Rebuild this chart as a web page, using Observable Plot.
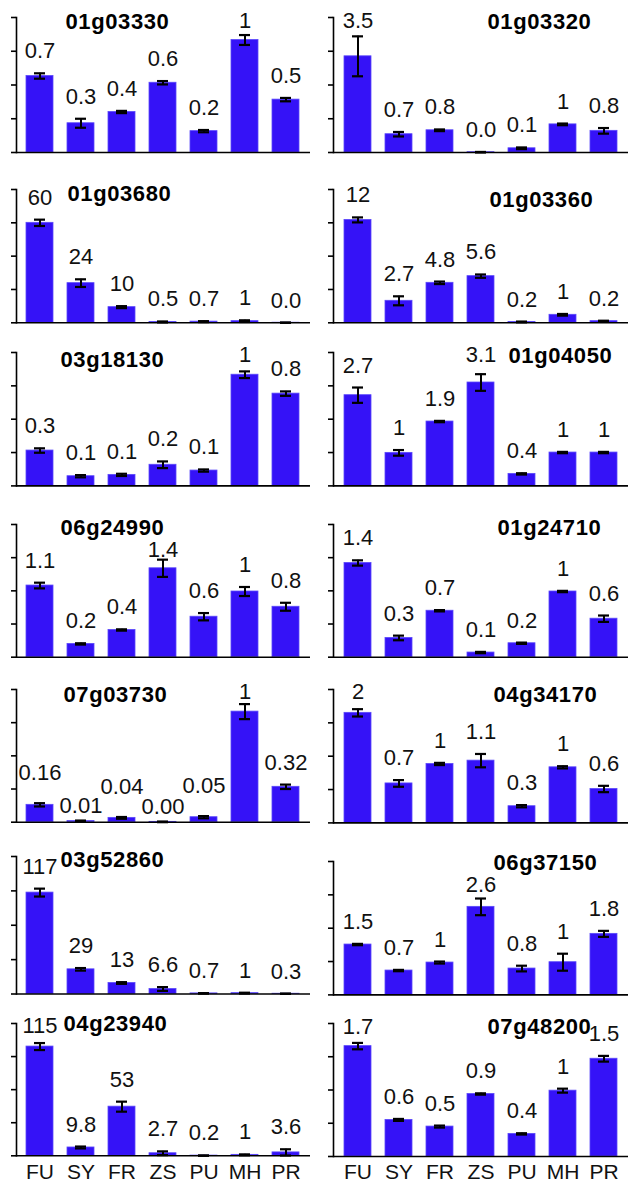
<!DOCTYPE html>
<html><head><meta charset="utf-8">
<script src="https://cdn.jsdelivr.net/npm/d3@7"></script>
<script src="https://cdn.jsdelivr.net/npm/@observablehq/plot@0.6"></script>
<style>
body{margin:0;background:#fff;}
#fig{position:relative;width:630px;height:1186px;overflow:hidden;}
#fig svg{position:absolute;}
#fig g[font-weight="bold"]{letter-spacing:0.6px;}
</style></head><body><div id="fig"></div>
<script>
// ---- data ----
const tissues = ["FU","SY","FR","ZS","PU","MH","PR"];
const genes = ["01g03330","01g03320","01g03680","01g03360","03g18130","01g04050","06g24990","01g24710","07g03730","04g34170","03g52860","06g37150","04g23940","07g48200"];
const values = [
  [0.68, 0.26, 0.36, 0.62, 0.19, 1.0, 0.47],
  [3.42, 0.65, 0.79, 0.01, 0.15, 1.0, 0.77],
  [60, 23.8, 9.4, 0.5, 0.7, 1, 0.05],
  [12.35, 2.64, 4.8, 5.6, 0.1, 0.96, 0.2],
  [0.318, 0.087, 0.099, 0.19, 0.138, 1.0, 0.83],
  [2.72, 0.99, 1.93, 3.1, 0.36, 1, 1],
  [1.08, 0.2, 0.41, 1.34, 0.61, 0.99, 0.76],
  [1.42, 0.29, 0.70, 0.07, 0.21, 0.99, 0.58],
  [0.157, 0.01, 0.039, 0.003, 0.045, 1.0, 0.32],
  [1.98, 0.71, 1.06, 1.12, 0.3, 1.0, 0.61],
  [118, 28.7, 12.8, 5.8, 0.7, 1, 0.3],
  [1.51, 0.73, 0.97, 2.64, 0.79, 0.98, 1.83],
  [115.6, 8.8, 52, 2.7, 0.2, 1, 3.6],
  [1.66, 0.55, 0.45, 0.94, 0.34, 0.99, 1.47]
];
const errors = [
  [0.024, 0.04, 0.01, 0.015, 0.01, 0.044, 0.015],
  [0.71, 0.08, 0.03, 0.01, 0.03, 0.03, 0.1],
  [1.9, 2.3, 0.6, 0.3, 0.3, 0.5, 0.1],
  [0.3, 0.54, 0.15, 0.2, 0.05, 0.1, 0.05],
  [0.02, 0.01, 0.01, 0.03, 0.01, 0.03, 0.02],
  [0.23, 0.085, 0.02, 0.25, 0.02, 0.02, 0.02],
  [0.043, 0.01, 0.01, 0.13, 0.055, 0.068, 0.06],
  [0.04, 0.035, 0.01, 0.01, 0.01, 0.01, 0.048],
  [0.015, 0.005, 0.008, 0.003, 0.01, 0.068, 0.02],
  [0.066, 0.06, 0.02, 0.12, 0.02, 0.02, 0.057],
  [4.6, 1.5, 1, 2.2, 0.3, 0.5, 0.2],
  [0.02, 0.02, 0.03, 0.25, 0.085, 0.255, 0.09],
  [3.7, 1, 5.3, 2, 0.2, 0.5, 3.3],
  [0.048, 0.015, 0.015, 0.01, 0.01, 0.03, 0.043]
];
const labels = [
  ["0.7","0.3","0.4","0.6","0.2","1","0.5"],
  ["3.5","0.7","0.8","0.0","0.1","1","0.8"],
  ["60","24","10","0.5","0.7","1","0.0"],
  ["12","2.7","4.8","5.6","0.2","1","0.2"],
  ["0.3","0.1","0.1","0.2","0.1","1","0.8"],
  ["2.7","1","1.9","3.1","0.4","1","1"],
  ["1.1","0.2","0.4","1.4","0.6","1","0.8"],
  ["1.4","0.3","0.7","0.1","0.2","1","0.6"],
  ["0.16","0.01","0.04","0.00","0.05","1","0.32"],
  ["2","0.7","1","1.1","0.3","1","0.6"],
  ["117","29","13","6.6","0.7","1","0.3"],
  ["1.5","0.7","1","2.6","0.8","1","1.8"],
  ["115","9.8","53","2.7","0.2","1","3.6"],
  ["1.7","0.6","0.5","0.9","0.4","1","1.5"]
];
const yMax = [1.2, 4.8, 80, 16, 1.2, 4, 2, 2, 1.2, 2.4, 160, 4, 140, 2];

// ---- layout (pixels) ----
const axisTops    = [16.7,16.7,188.7,188.7,352.3,352.3,524,524,689.3,689.3,855.5,861.3,1022.7,1022.7];
const axisBottoms = [151.7,151.7,322,322,485.7,485.7,656.7,656.7,822,822.7,993,994.7,1155,1155.7];
const titleLefts  = [65,487,67,489,60,508,60,497,63,493,60,493,63,487];
const titleDrops  = [11.6,11.6,12,18,14.5,11,11,11,13,13,10,9,8,10];
const TITLE_W = 102, LABEL_FS = 22, GAP = 15;

const fig = document.getElementById("fig");
const FONT = '"Liberation Sans", Arial, Helvetica, sans-serif';

genes.forEach((gene, i) => {
  const col = i % 2, row = Math.floor(i / 2);
  const last = row === 6;
  const D = yMax[i];
  const top = axisTops[i], bottom = axisBottoms[i];
  const mT = 32, mB = last ? 36 : 6;
  const mL = col === 0 ? 16 : 18, mR = col === 0 ? 5 : 2;
  const svgLeft = col === 0 ? 0 : 315;
  const width = 315;
  const height = mT + (bottom - top) + mB;

  // band geometry (same as the x scale below) used only for label collision checks
  const xs = d3.scaleBand(tissues, [svgLeft + mL, svgLeft + width - mR]).paddingInner(0.34).paddingOuter(0.2);
  const step = xs.step();
  const toPx = v => bottom - (v / D) * (bottom - top);
  const toVal = px => D * (bottom - px) / (bottom - top);
  const tL = titleLefts[i], tR = titleLefts[i] + TITLE_W, tBase = top + titleDrops[i];
  const estW = s => s.length === 1 ? 0.556 * LABEL_FS : (s.length - (s.includes(".") ? 0.5 : 0)) * 0.556 * LABEL_FS;

  const rows = tissues.map((t, j) => ({tissue: t, value: values[i][j], err: errors[i][j], label: labels[i][j]}));
  const base0 = rows.map(d => toPx(d.value + d.err) - GAP);
  rows.forEach((d, j) => {
    let gap = GAP;
    const crowded = [j - 1, j + 1].some(k => k >= 0 && k < rows.length &&
      (estW(d.label) + estW(rows[k].label)) / 2 > step - 2 && Math.abs(base0[k] - base0[j]) < 18);
    if (crowded) gap = j % 2 === 0 ? 23 : 8;
    let base = toPx(d.value + d.err) - gap;
    const cx = xs.bandwidth() / 2 + xs(d.tissue);
    const minBase = (cx > tL - 15 && cx < tR + 15) ? tBase + 22 : top + 10;
    base = Math.max(base, minBase);
    d.labelY = toVal(base);
  });

  const marks = [
    Plot.barY(rows, {x: "tissue", y: "value", fill: "#3512f7", stroke: "#5a48fa", strokeWidth: 0.8}),
    Plot.ruleX(rows, {x: "tissue", y1: d => Math.max(0, d.value - d.err), y2: d => d.value + d.err, stroke: "#000", strokeWidth: 2}),
    Plot.tickY(rows, {x: "tissue", y: d => d.value + d.err, insetLeft: 8, insetRight: 8, stroke: "#000", strokeWidth: 2.2}),
    Plot.tickY(rows, {x: "tissue", y: d => Math.max(0, d.value - d.err), insetLeft: 8, insetRight: 8, stroke: "#000", strokeWidth: 2.2}),
    Plot.axisY({ticks: d3.range(5).map(k => k * D / 4), tickSize: 5, tickFormat: () => "", strokeWidth: 1.6, stroke: "#000"}),
    Plot.frame({anchor: "left", stroke: "#000", strokeWidth: 1.6}),
    Plot.ruleY([0], {stroke: "#000", strokeWidth: 1.6}),
    Plot.text(rows, {x: "tissue", y: "labelY", text: "label", lineAnchor: "bottom", fontSize: LABEL_FS, fill: "#111"}),
    Plot.text([gene], {frameAnchor: "top-left", text: d => d, dx: titleLefts[i] - svgLeft - mL, dy: titleDrops[i], lineAnchor: "bottom", textAnchor: "start", fontSize: 22, fontWeight: "bold", fill: "#000"})
  ];
  if (last) marks.push(Plot.axisX({tickSize: 0, tickPadding: 8, fontSize: 21, label: null, fill: "#111"}));
  const svg = Plot.plot({
    width, height,
    marginTop: mT, marginBottom: mB, marginLeft: mL, marginRight: mR,
    style: {background: "transparent", overflow: "visible", fontFamily: FONT, fontSize: "21px", color: "#000"},
    x: last ? {domain: tissues, paddingInner: 0.34, paddingOuter: 0.2, label: null}
            : {domain: tissues, paddingInner: 0.34, paddingOuter: 0.2, label: null, axis: null},
    y: {domain: [0, D], label: null},
    marks
  });
  svg.style.position = "absolute";
  svg.style.left = svgLeft + "px";
  svg.style.top = (top - mT) + "px";
  fig.appendChild(svg);
});
</script>
</body></html>
